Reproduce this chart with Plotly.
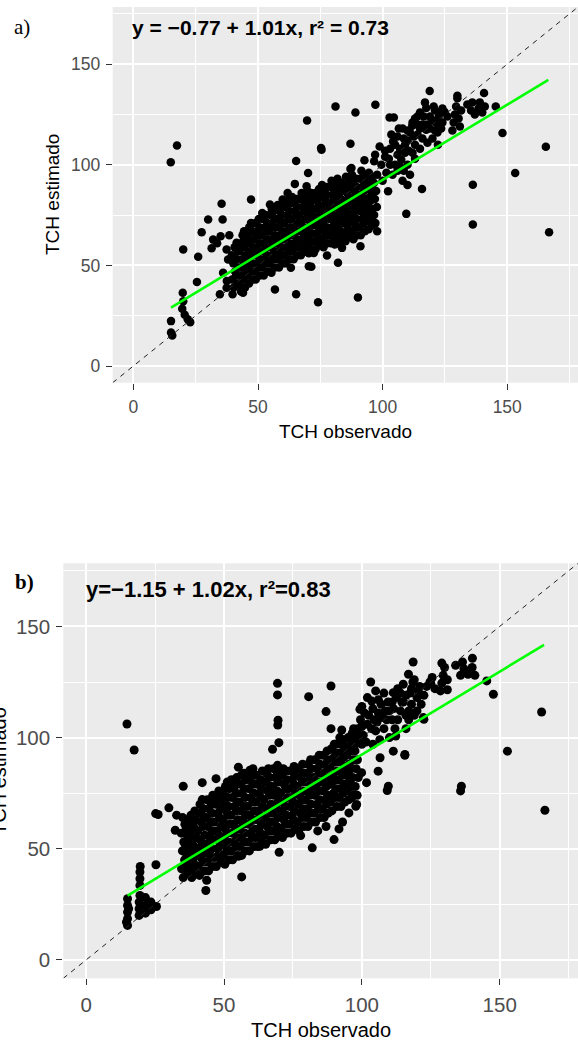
import plotly.graph_objects as go

W, H = 578, 1043

# ---------------- Panel a) : TCH observado x TCH estimado ----------------
nucleo_a = [
    (40.3,39),(39.6,43),(40.8,47),(40.1,51),(39.5,55),(40.6,59),
    (43.2,37),(42.6,41),(43.5,45),(42.9,49),(43.7,53),(42.4,57),(43.1,61),(43.8,65),
    (46.4,41),(45.7,45),(46.2,49),(45.5,53),(46.8,57),(46.1,61),(45.6,65),(46.5,69),
    (49.1,43),(48.6,47),(49.7,51),(48.9,55),(49.4,59),(48.5,63),(49.8,67),(49.0,71),
    (52.3,45),(51.6,49),(52.7,53),(51.9,57),(52.4,61),(51.5,65),(52.8,69),(52.0,73),(51.7,76),
    (55.2,47),(54.6,51),(55.7,55),(54.9,59),(55.4,63),(54.5,67),(55.8,71),(55.0,75),(55.5,78),
    (58.4,49),(57.7,53),(58.2,57),(57.5,61),(58.8,65),(58.1,69),(57.6,73),(58.5,77),(57.9,80),
    (61.1,51),(60.6,55),(61.7,59),(60.9,63),(61.4,67),(60.5,71),(61.8,75),(61.0,79),(61.3,82),
    (64.3,53),(63.6,57),(64.7,61),(63.9,65),(64.4,69),(63.5,73),(64.8,77),(64.0,81),(63.7,84),
    (67.2,55),(66.6,59),(67.7,63),(66.9,67),(67.4,71),(66.5,75),(67.8,79),(67.0,83),(67.5,86),
    (70.4,56),(69.7,60),(70.2,64),(69.5,68),(70.8,72),(70.1,76),(69.6,80),(70.5,84),(69.9,87),
    (73.1,58),(72.6,62),(73.7,66),(72.9,70),(73.4,74),(72.5,78),(73.8,82),(73.0,86),
    (76.3,59),(75.6,63),(76.7,67),(75.9,71),(76.4,75),(75.5,79),(76.8,83),(76.0,87),(75.7,90),
    (79.2,61),(78.6,65),(79.7,69),(78.9,73),(79.4,77),(78.5,81),(79.8,85),(79.0,89),(79.5,92),
    (82.4,61),(81.7,65),(82.2,69),(81.5,73),(82.8,77),(82.1,81),(81.6,85),(82.5,89),(81.9,93),
    (85.1,62),(84.6,66),(85.7,70),(84.9,74),(85.4,78),(84.5,82),(85.8,86),(85.0,90),(85.3,94),
    (88.3,63),(87.6,67),(88.7,71),(87.9,75),(88.4,79),(87.5,83),(88.8,87),(88.0,91),(87.7,95),
    (91.2,65),(90.6,69),(91.7,73),(90.9,77),(91.4,81),(90.5,85),(91.8,89),(91.0,93),(91.5,97),
    (94.4,68),(93.7,72),(94.2,76),(93.5,80),(94.8,84),(94.1,88),(93.6,92),(94.5,96),
    (97.1,71),(96.6,75),(97.7,79),(96.9,83),(97.4,87),(96.5,91),(97.8,95),
]
nucleo_a2 = [
    (41.8,41),(41.2,45),(42.1,49),(41.5,53),(41.9,57),
    (44.8,39),(44.2,43),(45.1,47),(44.6,51),(45.0,55),(44.3,59),(44.9,63),(44.4,67),
    (47.9,43),(47.3,47),(47.7,51),(47.1,55),(48.0,59),(47.4,63),(47.8,67),(47.2,71),
    (50.7,45),(50.2,49),(50.9,53),(50.4,57),(50.8,61),(50.1,65),(50.6,69),(50.3,73),
    (53.9,47),(53.3,51),(53.6,55),(53.2,59),(53.8,63),(53.4,67),(53.7,71),(53.1,75),
    (56.8,49),(56.2,53),(56.6,57),(56.1,61),(56.9,65),(56.3,69),(56.7,73),(56.4,77),
    (59.8,51),(59.2,55),(59.6,59),(59.1,63),(59.9,67),(59.3,71),(59.7,75),(59.4,79),
    (62.8,53),(62.2,57),(62.6,61),(62.1,65),(62.9,69),(62.3,73),(62.7,77),(62.4,81),
    (65.9,55),(65.3,59),(65.7,63),(65.2,67),(66.0,71),(65.4,75),(65.8,79),(65.5,83),
    (68.9,57),(68.3,61),(68.7,65),(68.2,69),(69.0,73),(68.4,77),(68.8,81),(68.5,85),
    (71.8,58),(71.2,62),(71.6,66),(71.1,70),(71.9,74),(71.3,78),(71.7,82),(71.4,86),
    (74.9,60),(74.3,64),(74.7,68),(74.2,72),(75.0,76),(74.4,80),(74.8,84),(74.5,88),
    (77.8,61),(77.2,65),(77.6,69),(77.1,73),(77.9,77),(77.3,81),(77.7,85),(77.4,89),
    (80.9,63),(80.3,67),(80.7,71),(80.2,75),(81.0,79),(80.4,83),(80.8,87),(80.5,91),
    (83.8,63),(83.2,67),(83.6,71),(83.1,75),(83.9,79),(83.3,83),(83.7,87),(83.4,91),
    (86.9,64),(86.3,68),(86.7,72),(86.2,76),(87.0,80),(86.4,84),(86.8,88),(86.5,92),
    (89.8,65),(89.2,69),(89.6,73),(89.1,77),(89.9,81),(89.3,85),(89.7,89),(89.4,93),
    (92.9,67),(92.3,71),(92.7,75),(92.2,79),(93.0,83),(92.4,87),(92.8,91),(92.5,95),
    (95.8,70),(95.2,74),(95.6,78),(95.1,82),(95.9,86),(95.3,90),(95.7,94),
]
dispersos_a = [
    (15.0,101.2),(17.5,109.6),(15.1,22.3),(15.1,16.6),(15.6,15.2),(19.6,28.5),(20.6,25.5),(21.8,23.2),(22.8,21.8),(20.0,32.2),
    (19.8,36.4),(20.0,57.9),(26.0,54.3),(25.5,41.7),(27.4,66.5),(30.0,72.8),(35.8,72.8),(35.4,80.6),(47.2,82.7),(32.0,62.8),
    (31.4,58.5),(33.6,61.0),(35.0,64.5),(37.4,57.9),(38.0,52.9),(36.0,46.3),(37.5,42.2),(34.7,35.6),(39.8,35.6),(37.4,38.9),
    (44.0,36.4),(41.4,61.2),(38.5,65.0),(43.4,38.0),(56.8,38.0),(65.3,35.6),(74.1,31.7),(90.1,34.1),(55.4,46.3),(63.2,48.8),
    (54.8,80.2),(59.9,82.7),(61.9,86.0),(64.8,90.5),(70.1,95.9),(69.5,89.3),(72.1,85.2),(87.5,98.4),(65.3,101.9),(75.5,107.5),
    (69.7,122.0),(75.3,108.3),(81.1,129.0),(89.1,126.0),(97.1,129.8),(87.1,110.5),(87.1,97.9),(92.7,102.2),(96.6,101.7),(102.2,86.8),
    (109.5,75.6),(115.8,88.0),(100.0,92.0),(104.0,95.0),(106.0,97.0),(108.0,92.0),(110.0,100.0),(97.0,105.0),(98.8,109.1),(101.0,104.0),
    (72.4,56.2),(77.7,54.9),(82.1,51.3),(70.4,49.6),(80.8,60.4),(83.7,58.7),(91.1,59.5),(97.8,67.0),(95.1,76.1),(71.4,49.3),
]
braco_a = [
    (103.0,108.0),(104.2,111.6),(106.0,114.0),(107.5,102.5),(108.0,118.0),(110.0,112.0),(111.9,119.4),(113.0,123.0),(114.0,115.0),(115.0,108.0),
    (116.0,120.0),(117.5,117.4),(117.5,128.2),(119.0,124.0),(120.0,113.0),(121.6,120.7),(122.2,110.0),(123.0,126.0),(124.9,126.2),(118.9,136.6),
    (102.8,123.5),(104.5,123.5),(112.0,106.0),(118.0,111.0),(109.0,106.0),(111.0,116.0),(113.0,110.0),(115.0,126.0),(119.0,118.0),(121.0,127.0),
    (122.0,116.0),(124.0,121.0),(114.0,120.0),(116.0,113.0),(106.0,105.0),(107.0,99.0),(110.0,90.0),(111.0,95.0),(109.0,110.0),(105.0,100.0),
    (99.5,100.0),(101.0,107.0),(102.5,103.0),(103.5,115.0),(105.0,110.0),(106.5,118.0),(107.0,108.0),(108.5,113.0),(110.0,117.0),(110.5,107.0),
    (112.0,121.0),(112.5,114.0),(114.0,124.0),(115.0,118.0),(116.5,124.0),(118.0,120.0),(120.0,122.0),(121.0,117.0),(122.5,124.0),(124.0,128.0),
    (120.5,129.0),(117.0,131.0),(123.5,118.0),(126.0,124.0),(101.5,96.0),(103.0,100.0),(108.5,97.0),(113.0,103.0),
    (128.0,117.0),(128.5,121.0),(129.0,125.0),(129.5,129.0),(130.0,133.0),(131.0,119.0),(130.5,123.0),(131.5,127.0),(130.0,134.3),
    (134.0,130.0),(135.5,127.0),(137.0,125.0),(138.5,128.0),(140.0,126.0),(141.0,129.0),(139.0,131.0),(136.0,131.0),(140.7,135.7),(145.4,129.0),
    (148.1,115.8),(165.5,109.0),(153.2,95.9),(136.2,90.1),(136.2,70.3),(166.8,66.5),
]

# ---------------- Panel b) ----------------
nucleo_b = [
    (35.2,37),(34.6,41),(35.7,45),(34.9,49),(35.4,53),(34.5,57),(35.8,61),(35.0,64),
    (38.3,37),(37.6,41),(38.7,45),(37.9,49),(38.4,53),(37.5,57),(38.8,61),(38.0,65),
    (41.1,38),(40.6,42),(41.7,46),(40.9,50),(41.4,54),(40.5,58),(41.8,62),(41.0,66),(41.3,70),
    (44.4,40),(43.7,44),(44.2,48),(43.5,52),(44.8,56),(44.1,60),(43.6,64),(44.5,68),(43.9,72),
    (47.2,42),(46.6,46),(47.7,50),(46.9,54),(47.4,58),(46.5,62),(47.8,66),(47.0,70),(47.5,74),
    (50.3,43),(49.6,47),(50.7,51),(49.9,55),(50.4,59),(49.5,63),(50.8,67),(50.0,71),(49.7,75),(50.5,78),
    (53.1,45),(52.6,49),(53.7,53),(52.9,57),(53.4,61),(52.5,65),(53.8,69),(53.0,73),(53.5,77),(52.7,81),
    (56.4,47),(55.7,51),(56.2,55),(55.5,59),(56.8,63),(56.1,67),(55.6,71),(56.5,75),(55.9,79),(56.3,83),
    (59.2,49),(58.6,53),(59.7,57),(58.9,61),(59.4,65),(58.5,69),(59.8,73),(59.0,77),(59.5,81),(58.7,84),
    (62.3,51),(61.6,55),(62.7,59),(61.9,63),(62.4,67),(61.5,71),(62.8,75),(62.0,79),(61.7,83),
    (65.1,52),(64.6,56),(65.7,60),(64.9,64),(65.4,68),(64.5,72),(65.8,76),(65.0,80),(65.5,84),
    (68.4,54),(67.7,58),(68.2,62),(67.5,66),(68.8,70),(68.1,74),(67.6,78),(68.5,82),(67.9,86),
    (71.2,55),(70.6,59),(71.7,63),(70.9,67),(71.4,71),(70.5,75),(71.8,79),(71.0,83),(71.5,86),
    (74.3,57),(73.6,61),(74.7,65),(73.9,69),(74.4,73),(73.5,77),(74.8,81),(74.0,85),
    (77.1,58),(76.6,62),(77.7,66),(76.9,70),(77.4,74),(76.5,78),(77.8,82),(77.0,86),
    (80.4,60),(79.7,64),(80.2,68),(79.5,72),(80.8,76),(80.1,80),(79.6,84),(80.5,88),
    (83.2,62),(82.6,66),(83.7,70),(82.9,74),(83.4,78),(82.5,82),(83.8,86),(83.0,90),
    (86.3,64),(85.6,68),(86.7,72),(85.9,76),(86.4,80),(85.5,84),(86.8,88),(86.0,92),
    (89.1,67),(88.6,71),(89.7,75),(88.9,79),(89.4,83),(88.5,87),(89.8,91),(89.0,95),
    (92.4,69),(91.7,73),(92.2,77),(91.5,81),(92.8,85),(92.1,89),(91.6,93),(92.5,97),
    (95.2,72),(94.6,76),(95.7,80),(94.9,84),(95.4,88),(94.5,92),(95.8,96),(95.0,100),
    (98.3,74),(97.6,78),(98.7,82),(97.9,86),(98.4,90),(97.5,94),(98.8,98),
]
nucleo_b2 = [
    (36.8,39),(36.2,43),(36.6,47),(36.1,51),(36.9,55),(36.3,59),(36.7,63),
    (39.8,39),(39.2,43),(39.6,47),(39.1,51),(39.9,55),(39.3,59),(39.7,63),(39.4,67),
    (42.9,40),(42.3,44),(42.7,48),(42.2,52),(43.0,56),(42.4,60),(42.8,64),(42.5,68),
    (45.8,42),(45.2,46),(45.6,50),(45.1,54),(45.9,58),(45.3,62),(45.7,66),(45.4,70),(45.9,74),
    (48.9,44),(48.3,48),(48.7,52),(48.2,56),(49.0,60),(48.4,64),(48.8,68),(48.5,72),(48.1,76),
    (51.8,45),(51.2,49),(51.6,53),(51.1,57),(51.9,61),(51.3,65),(51.7,69),(51.4,73),(51.9,77),(51.2,80),
    (54.9,47),(54.3,51),(54.7,55),(54.2,59),(55.0,63),(54.4,67),(54.8,71),(54.5,75),(54.1,79),(54.6,82),
    (57.8,49),(57.2,53),(57.6,57),(57.1,61),(57.9,65),(57.3,69),(57.7,73),(57.4,77),(57.9,81),(57.2,84),
    (60.9,51),(60.3,55),(60.7,59),(60.2,63),(61.0,67),(60.4,71),(60.8,75),(60.5,79),(60.1,83),
    (63.8,53),(63.2,57),(63.6,61),(63.1,65),(63.9,69),(63.3,73),(63.7,77),(63.4,81),(63.9,85),
    (66.9,54),(66.3,58),(66.7,62),(66.2,66),(67.0,70),(66.4,74),(66.8,78),(66.5,82),(66.1,86),
    (69.8,56),(69.2,60),(69.6,64),(69.1,68),(69.9,72),(69.3,76),(69.7,80),(69.4,84),
    (72.9,57),(72.3,61),(72.7,65),(72.2,69),(73.0,73),(72.4,77),(72.8,81),(72.5,85),
    (75.8,59),(75.2,63),(75.6,67),(75.1,71),(75.9,75),(75.3,79),(75.7,83),(75.4,87),
    (78.9,60),(78.3,64),(78.7,68),(78.2,72),(79.0,76),(78.4,80),(78.8,84),(78.5,88),
    (81.8,62),(81.2,66),(81.6,70),(81.1,74),(81.9,78),(81.3,82),(81.7,86),(81.4,90),
    (84.9,64),(84.3,68),(84.7,72),(84.2,76),(85.0,80),(84.4,84),(84.8,88),(84.5,92),
    (87.8,66),(87.2,70),(87.6,74),(87.1,78),(87.9,82),(87.3,86),(87.7,90),(87.4,94),
    (90.9,69),(90.3,73),(90.7,77),(90.2,81),(91.0,85),(90.4,89),(90.8,93),(90.5,97),
    (93.8,71),(93.2,75),(93.6,79),(93.1,83),(93.9,87),(93.3,91),(93.7,95),(93.4,99),
    (96.9,74),(96.3,78),(96.7,82),(96.2,86),(97.0,90),(96.4,94),(96.8,98),(96.5,102),
]
dispersos_b = [
    (14.8,106.1),(17.4,94.4),
    (15.0,15.5),(15.0,18.5),(15.0,21.5),(15.0,24.5),(15.0,27.5),(14.6,17.0),(15.4,23.0),
    (19.5,33.5),(19.5,36.5),(19.5,39.5),(19.6,42.0),
    (19.2,20.0),(19.2,23.0),(19.2,26.0),(19.5,29.0),(21.5,21.0),(21.5,24.5),(21.5,28.0),(23.5,22.5),(23.5,26.0),(25.5,24.0),
    (25.3,42.8),(43.4,31.2),(43.7,35.8),(56.4,37.3),
    (25.2,65.8),(30.0,68.4),(32.8,65.1),(32.3,58.3),(26.1,65.4),
    (35.2,78.1),(42.1,79.7),(47.1,81.5),(42.1,72.1),(46.7,72.9),(55.2,86.7),(59.4,85.3),(60.5,86.0),
    (69.4,124.4),(69.4,119.2),(69.6,107.8),(69.5,105.6),(69.9,97.7),(67.6,94.7),(69.4,87.5),
    (77.8,55.9),(82.0,50.4),(89.9,54.1),(91.7,58.9),(95.3,66.1),(97.8,69.1),(70.0,48.4),(63.0,51.1),(55.2,46.6),
    (84.0,58.0),(87.0,60.0),(93.0,62.0),
    (101.7,79.7),(109.6,78.1),(99.9,84.2),(105.9,84.9),(95.1,82.6),(95.7,78.1),(96.3,72.9),(98.1,69.9),
    (115.6,92.4),(111.4,93.9),(106.6,90.9),
]
braco_b = [
    (88.8,123.2),(80.7,118.4),(87.0,111.7),(88.8,104.0),(92.7,103.4),(89.0,94.7),(95.7,94.7),(99.3,112.7),(103.6,116.4),(103.2,125.0),
    (111.4,120.2),(116.9,128.5),(118.6,134.0),(124.7,125.0),(122.3,109.0),
    (105.0,103.0),(105.5,107.0),(106.0,111.0),(107.0,115.0),(108.0,104.0),(109.0,108.0),(110.0,112.0),(111.0,116.0),(112.0,104.0),(113.0,108.0),
    (114.0,112.0),(115.0,116.0),(116.0,104.0),(117.0,108.0),(106.5,99.0),(110.0,100.0),
    (114.0,120.0),(115.0,124.0),(116.0,119.0),(118.0,115.0),(118.0,122.0),(119.0,126.0),(120.0,112.0),(120.0,118.0),(121.0,123.0),(119.0,110.0),(117.0,112.0),
    (98.5,104.0),(100.5,101.0),(102.0,106.0),(102.5,110.0),(103.5,104.0),(104.0,113.0),(104.5,108.0),(106.0,117.0),(107.5,109.0),(108.5,112.0),
    (108.0,120.0),(109.5,116.0),(111.0,108.0),(111.5,113.0),(112.5,118.0),(113.0,122.0),(114.5,116.0),(116.0,110.0),(117.5,120.0),(118.5,125.0),
    (120.5,121.0),(121.5,115.0),(122.5,119.0),(123.5,123.0),(125.5,127.0),(126.5,122.0),(102.0,118.0),(105.0,121.0),(100.0,97.0),(104.0,97.0),
    (99.5,108.0),(101.0,111.0),(100.0,114.0),
    (97.5,97.0),(98.5,101.0),(100.0,105.0),(101.5,98.0),(97.0,104.0),
    (90.0,97.0),(92.0,100.0),(94.0,96.0),(96.0,99.0),(91.5,93.0),
    (128.5,121.0),(129.0,124.5),(129.5,128.0),(130.0,131.5),(131.0,126.0),(131.0,121.5),(129.0,133.5),
    (135.8,128.0),(137.0,131.0),(138.5,128.5),(140.0,131.5),(141.0,128.0),(140.1,135.7),(134.0,132.5),(136.5,134.0),
    (145.3,125.5),(147.7,119.5),(165.2,111.5),(152.8,93.9),(136.1,78.1),(135.8,76.0),(166.4,67.3),(109.2,76.2),
    (115.6,92.0),(112.3,100.7),(122.5,108.2),(125.0,124.4),
]

# fitted (green) lines, 1:1 reference, axes
ajuste_a_x = [15.1, 166.5]
ajuste_a_y = [29.0, 142.2]
ajuste_b_x = [15.0, 166.1]
ajuste_b_y = [28.9, 141.7]
limites = [-8.3, 178.4]
ticks_major = [0, 50, 100, 150]
ticks_minor = [25, 75, 125, 175]
rotulos = ["0", "50", "100", "150"]
eq_a = "y = \u22120.77 + 1.01x, r\u00b2 = 0.73"
eq_b = "y=\u22121.15 + 1.02x, r\u00b2=0.83"
titulo_x = "TCH observado"
titulo_y = "TCH estimado"


def split(*groups):
    xs, ys = [], []
    for g in groups:
        for x, y in g:
            xs.append(x)
            ys.append(y)
    return xs, ys


obs_a, est_a = split(nucleo_a, nucleo_a2, dispersos_a, braco_a)
obs_b, est_b = split(nucleo_b, nucleo_b2, dispersos_b, braco_b)

fig = go.Figure()
for (ox, oy, fx, fy, xa, ya, ms) in [
    (obs_a, est_a, ajuste_a_x, ajuste_a_y, "x", "y", 8.5),
    (obs_b, est_b, ajuste_b_x, ajuste_b_y, "x2", "y2", 9),
]:
    fig.add_trace(go.Scatter(x=ox, y=oy, mode="markers", xaxis=xa, yaxis=ya,
                             marker=dict(color="black", size=ms, line=dict(width=0)),
                             showlegend=False, hoverinfo="skip"))
    fig.add_trace(go.Scatter(x=limites, y=limites, mode="lines", xaxis=xa, yaxis=ya,
                             line=dict(color="#222222", width=1, dash="5px,5px"),
                             showlegend=False, hoverinfo="skip"))
    fig.add_trace(go.Scatter(x=fx, y=fy, mode="lines", xaxis=xa, yaxis=ya,
                             line=dict(color="#00FF00", width=2.6),
                             showlegend=False, hoverinfo="skip"))


def ax(domain, anchor, fsize):
    return dict(domain=domain, anchor=anchor, range=limites, tickvals=ticks_major,
                ticktext=rotulos, ticks="outside", ticklen=6, tickwidth=1.3,
                tickcolor="#333333", showgrid=True, gridcolor="white", gridwidth=2,
                minor=dict(tickvals=ticks_minor, showgrid=True, gridcolor="white",
                           gridwidth=1, ticks=""),
                zeroline=False, showline=False, ticklabelstandoff=2,
                tickfont=dict(family="Liberation Sans, Arial", size=fsize, color="#4D4D4D"))


fig.update_layout(
    width=W, height=H, autosize=False,
    margin=dict(l=0, r=0, t=0, b=0),
    paper_bgcolor="white", plot_bgcolor="#EBEBEB",
    xaxis=ax([112.7 / W, 1], "y", 17.5),
    yaxis=ax([1 - 382.7 / H, 1 - 7 / H], "x", 17.5),
    xaxis2=ax([63.3 / W, 1], "y2", 20.5),
    yaxis2=ax([1 - 978.3 / H, 1 - 563.3 / H], "x2", 20.5),
)

sans = "Liberation Sans, Arial"
serif = "Liberation Serif, Times New Roman"
anns = [
    dict(text="<b>" + eq_a + "</b>", x=-1.3, y=168, xref="x", yref="y", xanchor="left",
         yanchor="middle", font=dict(family=sans, size=21, color="black")),
    dict(text="<b>" + eq_b + "</b>", x=-0.8, y=166.4, xref="x2", yref="y2", xanchor="left",
         yanchor="middle", font=dict(family=sans, size=22, color="black")),
    dict(text="a)", x=11.5 / W, y=1 - 27 / H, xref="paper", yref="paper", xanchor="left",
         yanchor="middle", font=dict(family=serif, size=21, color="black")),
    dict(text="<b>b)</b>", x=12.5 / W, y=1 - 582 / H, xref="paper", yref="paper", xanchor="left",
         yanchor="middle", font=dict(family=serif, size=21, color="black")),
    dict(text=titulo_x, x=345.4 / W, y=1 - 431 / H, xref="paper", yref="paper", xanchor="center",
         yanchor="middle", font=dict(family=sans, size=19, color="black")),
    dict(text=titulo_y, x=53 / W, y=1 - 195 / H, xref="paper", yref="paper", xanchor="center",
         yanchor="middle", textangle=-90, font=dict(family=sans, size=19, color="black")),
    dict(text=titulo_x, x=320.7 / W, y=1 - 1030 / H, xref="paper", yref="paper", xanchor="center",
         yanchor="middle", font=dict(family=sans, size=20, color="black")),
    dict(text=titulo_y, x=-1 / W, y=1 - 771 / H, xref="paper", yref="paper", xanchor="center",
         yanchor="middle", textangle=-90, font=dict(family=sans, size=20, color="black")),
]
for a in anns:
    a["showarrow"] = False
fig.update_layout(annotations=anns)

# remove the browser's default 8px page margin so the figure sits at (0, 0)
fig.write_html("out.html", config={"displayModeBar": False},
               post_script="document.body.style.margin='0';")
